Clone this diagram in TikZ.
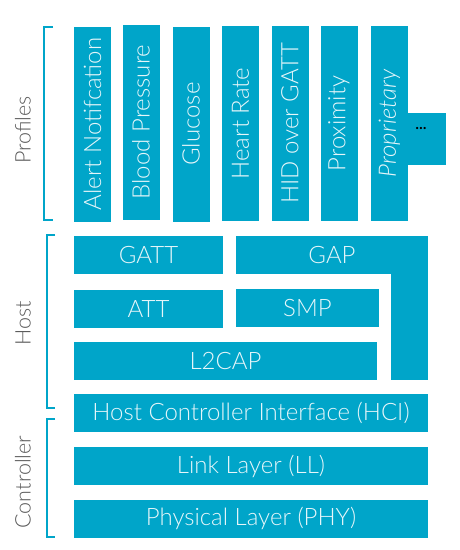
\documentclass[tikz,border=0pt]{standalone}
\usepackage{fontspec}
\setmainfont{Lato Light}
\definecolor{blebox}{HTML}{00A5C9}
\definecolor{bletext}{HTML}{E6F6FA}
\definecolor{blelabel}{HTML}{5A5A5A}

\tikzset{
  layer/.style={fill=blebox, text=bletext, inner sep=0pt, minimum height=38pt,
    font=\fontsize{24}{24}\selectfont},
  profile/.style={layer, rotate=90, minimum width=195pt, minimum height=37pt},
  side/.style={text=blelabel, rotate=90, font=\fontsize{21.5}{21.5}\selectfont},
  bracket/.style={draw=blebox, line width=2.5pt}
}

\begin{document}
\begin{tikzpicture}[x=1pt, y=-1pt]
  \useasboundingbox (0,0) rectangle (459,550);
  % profiles
  \node[profile] (alert) at (92.5,124) {Alert Notifcation};
  \node[profile] (blood) at (141,122) {Blood Pressure};
  \node[profile] (glucose) at (191,124) {Glucose};
  \node[profile] (heart) at (240.5,123.5) {Heart Rate};
  \node[profile] (hid) at (290,123.5) {HID over GATT};
  \node[profile] (prox) at (339,123.5) {Proximity};
  \node[profile] (propr) at (389.5,123.5) {\itshape Proprietary};
  \node[layer, minimum width=38pt, minimum height=52pt] (more) at (427,139) {};
  \node[font=\bfseries\fontsize{16}{16}\selectfont, inner sep=0pt] (dots) at (421,128) {...};
  % host
  \node[layer, minimum width=149pt] (gatt) at (148.5,255) {GATT};
  \node[layer, minimum width=192pt] (gap) at (332,255) {GAP};
  \node[layer, minimum width=37pt, minimum height=106pt] (gapside) at (409.5,327) {};
  \node[layer, minimum width=149pt] (att) at (148.5,309) {ATT};
  \node[layer, minimum width=143pt] (smp) at (307.5,308) {SMP};
  \node[layer, minimum width=303pt] (l2cap) at (225.5,361) {L2CAP};
  \node[layer, minimum width=354pt] (hci) at (251,413) {Host Controller Interface (HCI)};
  % controller
  \node[layer, minimum width=354pt] (ll) at (251,466) {Link Layer (LL)};
  \node[layer, minimum width=354pt] (phy) at (251,518.5) {Physical Layer (PHY)};
  % brackets
  \draw[bracket] (53,27) -- (44,27) -- (44,220) -- (53,220);
  \draw[bracket] (55,235) -- (47,235) -- (47,408) -- (55,408);
  \draw[bracket] (55,419) -- (47,419) -- (47,537) -- (55,537);
  \node[side] (profiles) at (23,130) {Profiles};
  \node[side] (host) at (23,323) {Host};
  \node[side] (controller) at (23,482) {Controller};
\end{tikzpicture}
\end{document}
